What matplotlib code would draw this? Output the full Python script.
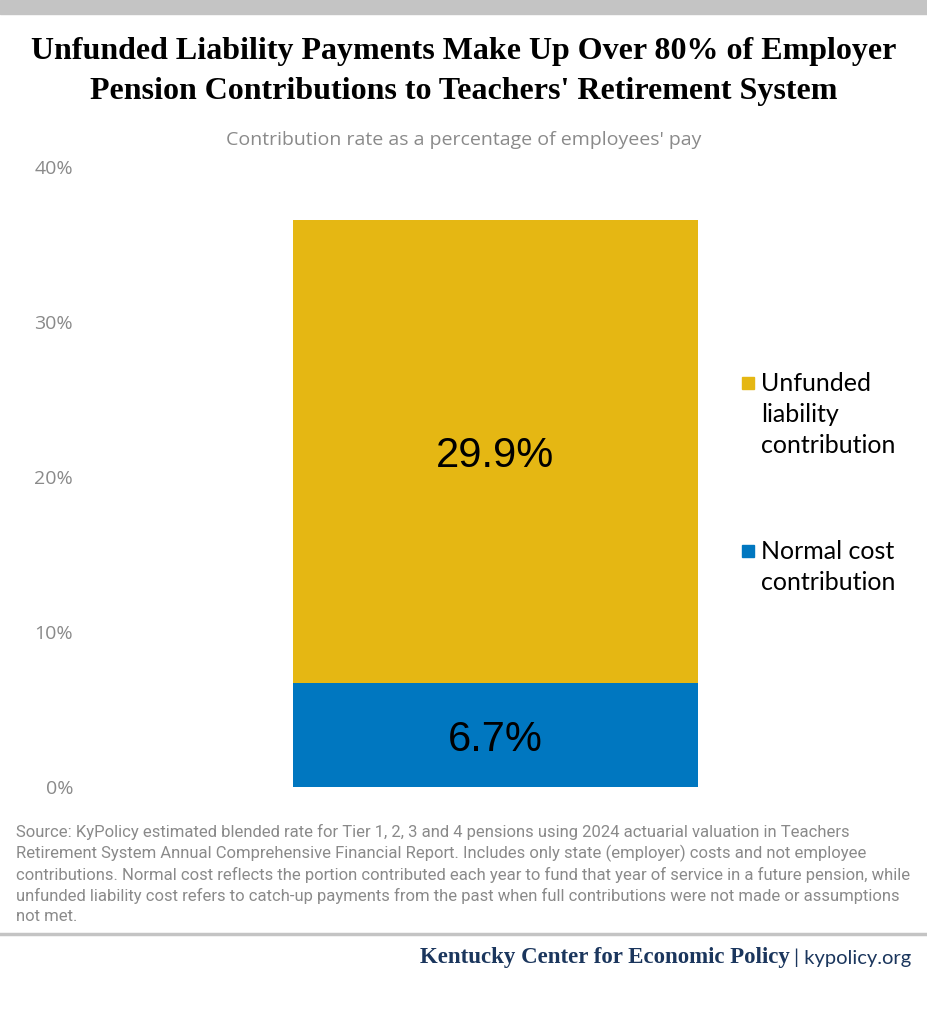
import matplotlib.pyplot as plt
from matplotlib.patches import Rectangle

# data
categories = ["Employer contribution"]
normal_cost = [6.7]
unfunded = [29.9]
series_labels = ["Unfunded\nliability\ncontribution", "Normal cost\ncontribution"]
yticks = [0, 10, 20, 30, 40]
ytick_labels = ["0%", "10%", "20%", "30%", "40%"]

YELLOW = "#E5B713"
BLUE = "#0077C0"
GRAY = "#8a8a8a"
NAVY = "#1b365d"

W, H = 928, 1024
fig = plt.figure(figsize=(W / 100, H / 100), dpi=100)


def px(x, y):
    # pixel position (from top-left) -> figure fraction
    return x / W, 1 - y / H


# top grey band
fig.patches.append(Rectangle((0, 1 - 14 / H), 1, 14 / H, transform=fig.transFigure,
                             color="#c4c4c4", zorder=0))

fig.text(*px(464, 52), "Unfunded Liability Payments Make Up Over 80% of Employer",
         ha="center", va="center", fontsize=23, fontweight="bold", family="Liberation Serif")
fig.text(*px(464, 92), "Pension Contributions to Teachers' Retirement System",
         ha="center", va="center", fontsize=23, fontweight="bold", family="Liberation Serif")
fig.text(*px(464, 140), "Contribution rate as a percentage of employees' pay",
         ha="center", va="center", fontsize=14, color=GRAY, family="Open Sans")

# axes: 0% at y=787px, 40% at y=167px
ax = fig.add_axes([80 / W, 1 - 787 / H, 831 / W, 620 / H])
ax.bar(categories, normal_cost, width=0.487, color=BLUE)
ax.bar(categories, unfunded, bottom=normal_cost, width=0.487, color=YELLOW)
ax.set_xlim(-0.5, 0.5)
ax.set_ylim(0, 40)
ax.set_yticks(yticks)
ax.set_yticklabels(ytick_labels, color=GRAY, fontsize=14, family="Open Sans")
ax.tick_params(axis="y", length=0, pad=5)
ax.set_xticks([])
for s in ax.spines.values():
    s.set_visible(False)

for i in range(len(categories)):
    ax.text(i, normal_cost[i] / 2, f"{normal_cost[i]:.1f}%", ha="center", va="center_baseline",
            fontsize=30, family="Liberation Sans")
    ax.text(i, normal_cost[i] + unfunded[i] / 2, f"{unfunded[i]:.1f}%", ha="center",
            va="center_baseline", fontsize=30, family="Liberation Sans")

# legend drawn by hand to keep the original spacing
for (ytop, label, color) in [(377, series_labels[0], YELLOW), (545, series_labels[1], BLUE)]:
    fig.patches.append(Rectangle(px(742, ytop + 12), 12 / W, 12 / H, transform=fig.transFigure,
                                 color=color))
    fig.text(*px(761, ytop - 5), label, ha="left", va="top", fontsize=18,
             family="Lato", linespacing=1.42)

source = ("Source: KyPolicy estimated blended rate for Tier 1, 2, 3 and 4 pensions using 2024 actuarial valuation in Teachers\n"
          "Retirement System Annual Comprehensive Financial Report. Includes only state (employer) costs and not employee\n"
          "contributions. Normal cost reflects the portion contributed each year to fund that year of service in a future pension, while\n"
          "unfunded liability cost refers to catch-up payments from the past when full contributions were not made or assumptions\n"
          "not met.")
fig.text(*px(16, 824), source, ha="left", va="top", fontsize=12, color=GRAY,
         family=["Roboto", "DejaVu Sans"], linespacing=1.38)

fig.lines.append(plt.Line2D([0, 1], [1 - 934 / H] * 2, transform=fig.transFigure,
                            color="#c4c4c4", lw=2.5))

fig.text(*px(790, 958), "Kentucky Center for Economic Policy", ha="right", va="center",
         fontsize=16.5, fontweight="bold", color=NAVY, family="Liberation Serif")
fig.text(*px(794, 958), "| kypolicy.org", ha="left", va="center", fontsize=14.5,
         color=NAVY, family="Lato")

fig.savefig("out.png", dpi=100)
